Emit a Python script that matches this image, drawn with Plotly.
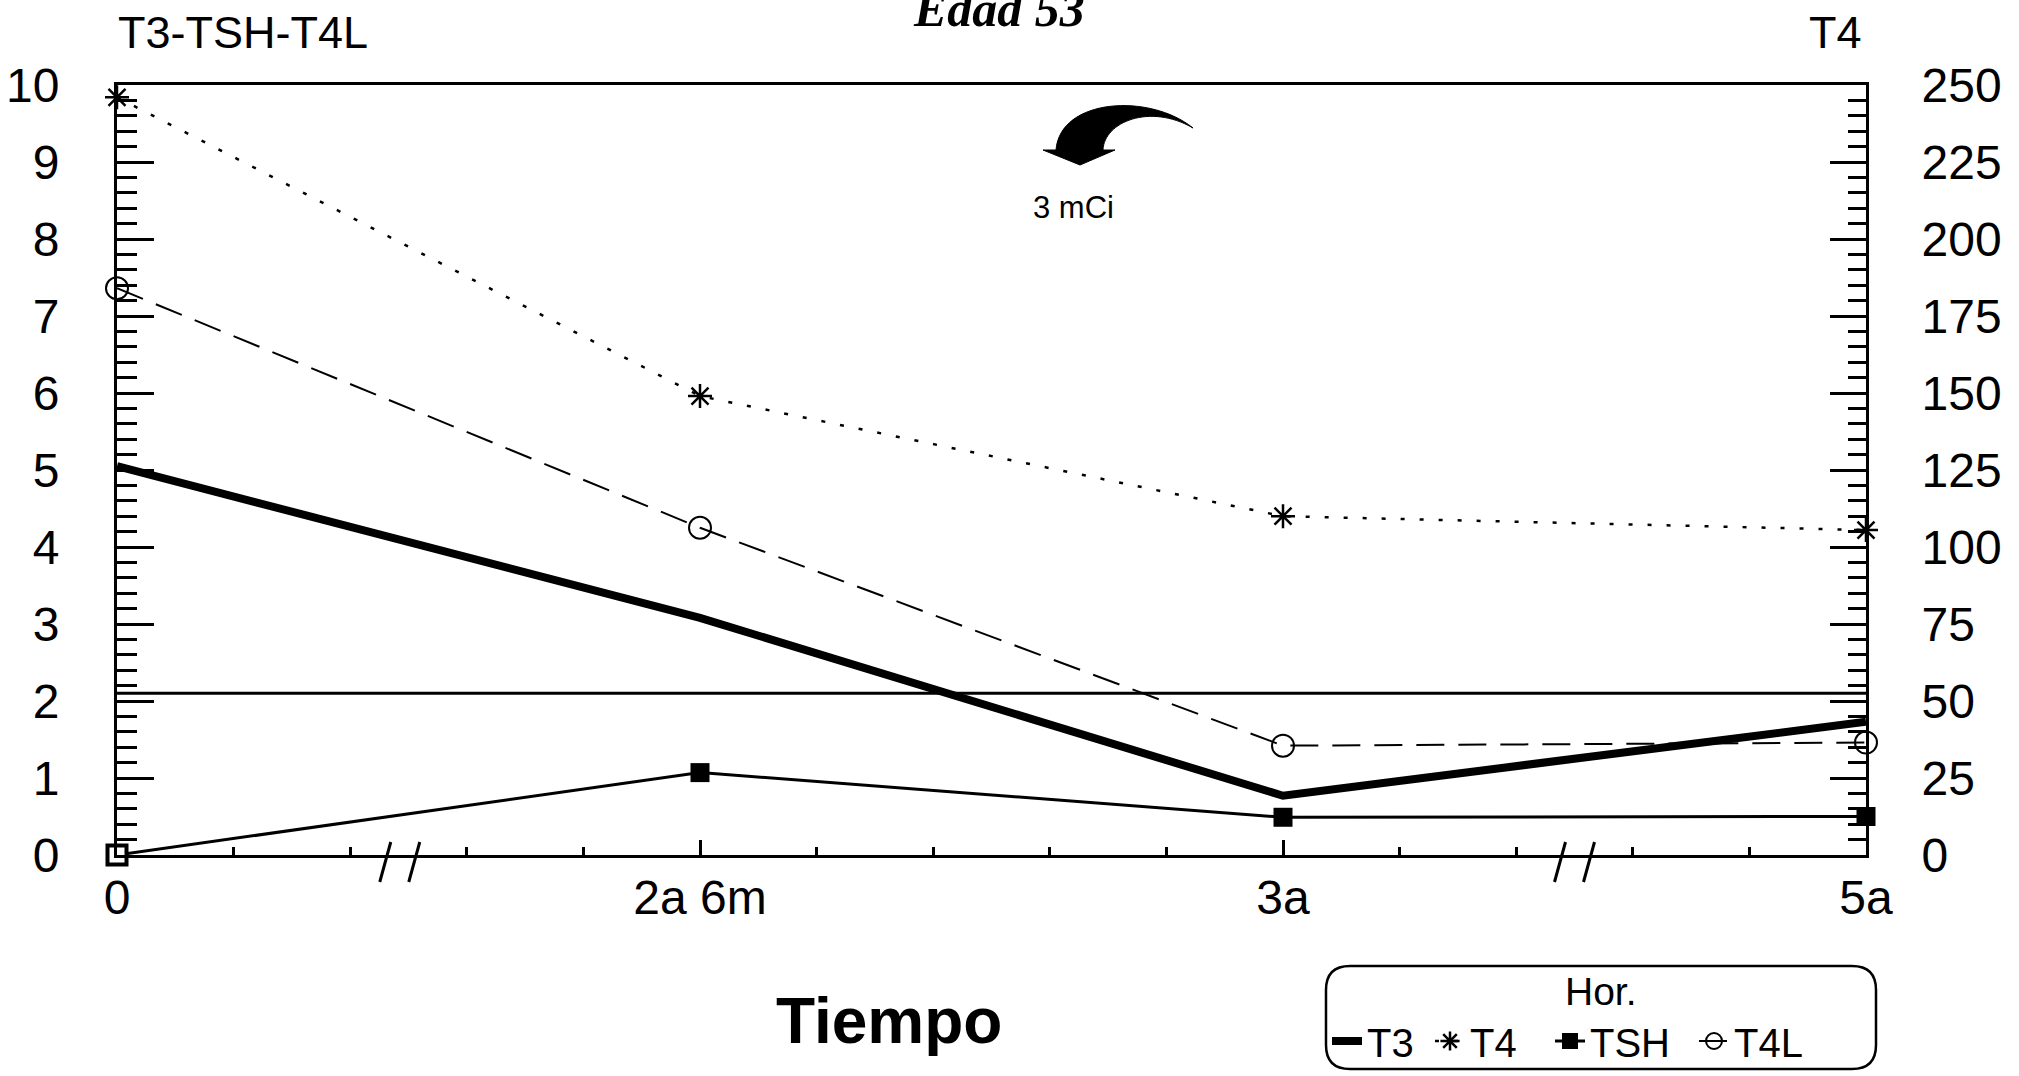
import plotly.graph_objects as go

# ---- data ----
x_labels = ["0", "2a 6m", "3a", "5a"]
x_pos = [0, 1, 2, 3]
t3 = [5.05, 3.08, 0.77, 1.73]
t4 = [246, 149, 110, 105.5]
tsh = [0.0, 1.07, 0.49, 0.50]
t4l = [7.36, 4.25, 1.42, 1.46]
left_ticks = list(range(0, 11))
right_ticks = list(range(0, 251, 25))
break_positions = [0.485, 2.5]
separator_level = 2.1
x_range = [0, 3]

W, H = 2019, 1076
PL, PR, PT, PB = 117, 1866, 85, 855
FONT = "Liberation Sans, Arial, sans-serif"


def px(x):
    return (x - PL) / (PR - PL)


def py(y):
    return (PB - y) / (PB - PT)


def P(x, y):
    return f"{px(x):.5f},{py(y):.5f}"


fig = go.Figure()

fig.add_trace(go.Scatter(x=x_pos, y=t3, name="T3", mode="lines", legendwidth=58,
                         line=dict(color="black", width=8), cliponaxis=False))
fig.add_trace(go.Scatter(x=x_pos, y=t4, name="T4", mode="lines+markers", yaxis="y2", legendwidth=75,
                         line=dict(color="black", width=2.5, dash="4px,15px"),
                         marker=dict(symbol="asterisk-open", size=20,
                                     line=dict(color="black", width=2.5)),
                         cliponaxis=False))
fig.add_trace(go.Scatter(x=x_pos, y=tsh, name="TSH", mode="lines+markers", legendwidth=99,
                         line=dict(color="black", width=3),
                         marker=dict(symbol="square", size=19, color="black"),
                         cliponaxis=False))
fig.add_trace(go.Scatter(x=x_pos[:1], y=tsh[:1], name="TSH", mode="markers", showlegend=False,
                         marker=dict(symbol="square", size=19, color="white",
                                     line=dict(color="black", width=4)),
                         cliponaxis=False))
fig.add_trace(go.Scatter(x=x_pos, y=t4l, name="T4L", mode="lines+markers", legendwidth=70,
                         line=dict(color="black", width=2, dash="28px,14px"),
                         marker=dict(symbol="circle-open", size=22,
                                     line=dict(color="black", width=2)),
                         cliponaxis=False))

shapes = []
# separator line
shapes.append(dict(type="line", xref="paper", x0=0, x1=1, yref="y",
                   y0=separator_level, y1=separator_level,
                   line=dict(color="black", width=3)))
# axis break marks "//"
for b in break_positions:
    xb = (b - x_range[0]) / (x_range[1] - x_range[0])
    for dx in (-10, 19):
        shapes.append(dict(type="line", xref="paper", xsizemode="pixel", xanchor=xb,
                           x0=dx + 1, x1=dx - 10,
                           yref="paper", ysizemode="pixel", yanchor=0, y0=13, y1=-27,
                           line=dict(color="black", width=3)))
# curved arrow (decoration)
arrow = ("M " + P(1043, 150) + " L " + P(1080, 165) + " L " + P(1115, 150) +
         " L " + P(1103, 150) + " C " + P(1104, 122) + " " + P(1150, 103) + " " + P(1193, 128) +
         " C " + P(1150, 93) + " " + P(1060, 98) + " " + P(1056, 150) + " Z")
shapes.append(dict(type="path", xref="paper", yref="paper", path=arrow,
                   fillcolor="black", line=dict(color="black", width=1)))
# rounded legend frame
x1, y1, x2, y2, r = 1326, 966, 1876, 1069, 24
frame = ("M " + P(x1 + r, y1) + " L " + P(x2 - r, y1) + " Q " + P(x2, y1) + " " + P(x2, y1 + r) +
         " L " + P(x2, y2 - r) + " Q " + P(x2, y2) + " " + P(x2 - r, y2) +
         " L " + P(x1 + r, y2) + " Q " + P(x1, y2) + " " + P(x1, y2 - r) +
         " L " + P(x1, y1 + r) + " Q " + P(x1, y1) + " " + P(x1 + r, y1) + " Z")
shapes.append(dict(type="path", xref="paper", yref="paper", path=frame,
                   line=dict(color="black", width=2.5)))

annotations = [
    dict(text="T3-TSH-T4L", xref="paper", yref="paper", x=px(116), y=py(33),
         xanchor="left", yanchor="middle", showarrow=False,
         font=dict(family=FONT, size=45, color="black")),
    dict(text="T4", xref="paper", yref="paper", x=px(1864), y=py(33),
         xanchor="right", yanchor="middle", showarrow=False,
         font=dict(family=FONT, size=45, color="black")),
    dict(text="<b><i>Edad 53</i></b>", xref="paper", yref="paper", x=px(999), y=py(9),
         xanchor="center", yanchor="middle", showarrow=False,
         font=dict(family="Liberation Serif, Times New Roman, serif", size=50, color="black")),
    dict(text="3 mCi", xref="paper", yref="paper", x=px(1073), y=py(207),
         xanchor="center", yanchor="middle", showarrow=False,
         font=dict(family=FONT, size=31, color="black")),
    dict(text="<b>Tiempo</b>", xref="paper", yref="paper", x=px(889), y=py(1021),
         xanchor="center", yanchor="middle", showarrow=False,
         font=dict(family=FONT, size=64, color="black")),
    dict(text="Hor.", xref="paper", yref="paper", x=px(1601), y=py(992),
         xanchor="center", yanchor="middle", showarrow=False,
         font=dict(family=FONT, size=39, color="black")),
]

fig.update_layout(
    width=W, height=H,
    margin=dict(l=PL, r=W - PR, t=PT, b=H - PB, autoexpand=False),
    paper_bgcolor="white", plot_bgcolor="white",
    font=dict(family=FONT, color="black"),
    showlegend=True,
    legend=dict(orientation="h", xref="paper", yref="paper",
                x=px(1327), y=py(1041), xanchor="left", yanchor="middle",
                font=dict(family=FONT, size=40, color="black"),
                itemwidth=30,
                bgcolor="rgba(0,0,0,0)", borderwidth=0, tracegroupgap=0),
    xaxis=dict(range=x_range, tickmode="array", tickvals=x_pos, ticktext=x_labels,
               ticks="inside", ticklen=15, tickwidth=3, tickcolor="black",
               minor=dict(dtick=0.2, tick0=0, ticks="inside", ticklen=8, tickwidth=2.5, tickcolor="black"),
               showline=True, linecolor="black", linewidth=3, mirror=True,
               showgrid=False, zeroline=False, ticklabelstandoff=-2,
               tickfont=dict(family=FONT, size=48, color="black")),
    yaxis=dict(range=[0, 10], tickmode="array", tickvals=left_ticks,
               ticks="inside", ticklen=37, tickwidth=3, tickcolor="black",
               minor=dict(dtick=0.2, tick0=0, ticks="inside", ticklen=20, tickwidth=3, tickcolor="black"),
               showline=True, linecolor="black", linewidth=3,
               showgrid=False, zeroline=False, ticklabelstandoff=45,
               tickfont=dict(family=FONT, size=48, color="black")),
    yaxis2=dict(range=[0, 250], tickmode="array", tickvals=right_ticks, overlaying="y", side="right",
                ticks="inside", ticklen=36, tickwidth=3, tickcolor="black",
                minor=dict(dtick=5, tick0=0, ticks="inside", ticklen=18, tickwidth=3, tickcolor="black"),
                showline=True, linecolor="black", linewidth=3,
                showgrid=False, zeroline=False, ticklabelstandoff=43,
                tickfont=dict(family=FONT, size=48, color="black")),
    shapes=shapes,
    annotations=annotations,
)

fig.write_html(
    "out.html",
    config={"displayModeBar": False},
    post_script="document.body.style.margin='0';document.body.style.overflow='hidden';"
                "document.documentElement.style.overflow='hidden';",
)
